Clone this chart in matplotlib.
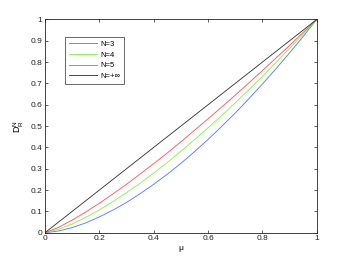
import matplotlib
matplotlib.use('Agg')
import matplotlib.pyplot as plt

# values
mu = [0, 0.05, 0.1, 0.15, 0.2, 0.25, 0.3, 0.35, 0.4, 0.45, 0.5,
      0.55, 0.6, 0.65, 0.7, 0.75, 0.8, 0.85, 0.9, 0.95, 1]
d_n3 = [0, 0.008, 0.024, 0.046, 0.074, 0.106, 0.142, 0.183, 0.227, 0.274, 0.325,
        0.380, 0.437, 0.498, 0.561, 0.628, 0.697, 0.769, 0.843, 0.920, 1]
d_n4 = [0, 0.016, 0.041, 0.072, 0.107, 0.146, 0.188, 0.232, 0.280, 0.329, 0.382,
        0.436, 0.492, 0.549, 0.609, 0.670, 0.733, 0.798, 0.864, 0.931, 1]
d_n5 = [0, 0.025, 0.059, 0.097, 0.138, 0.182, 0.227, 0.275, 0.324, 0.374, 0.426,
        0.480, 0.534, 0.589, 0.645, 0.702, 0.760, 0.819, 0.878, 0.939, 1]
d_inf = [0, 0.05, 0.1, 0.15, 0.2, 0.25, 0.3, 0.35, 0.4, 0.45, 0.5,
         0.55, 0.6, 0.65, 0.7, 0.75, 0.8, 0.85, 0.9, 0.95, 1]

labels = ['N=3', 'N=4', 'N=5', 'N=+\u221e']
colors = ['#5a7cff', '#8cf050', '#ff5a5a', '#3a3a3a']
xticks = [0, 0.2, 0.4, 0.6, 0.8, 1]
xticklabels = ['0', '0.2', '0.4', '0.6', '0.8', '1']
yticks = [0, 0.1, 0.2, 0.3, 0.4, 0.5, 0.6, 0.7, 0.8, 0.9, 1]
yticklabels = ['0', '0.1', '0.2', '0.3', '0.4', '0.5', '0.6', '0.7', '0.8', '0.9', '1']

plt.rcParams['font.family'] = ['Liberation Sans', 'DejaVu Sans']
plt.rcParams['mathtext.fontset'] = 'custom'
plt.rcParams['mathtext.rm'] = 'Liberation Sans'

fig = plt.figure(figsize=(3.49, 2.62), dpi=100)
ax = fig.add_axes([45 / 349, 1 - 232.7 / 262, 271.7 / 349, 213.2 / 262])

for y, c, l in zip([d_n3, d_n4, d_n5, d_inf], colors, labels):
    ax.plot(mu, y, color=c, linewidth=0.65, label=l)

ax.set_xlim(0, 1)
ax.set_ylim(0, 1)
ax.set_xticks(xticks)
ax.set_xticklabels(xticklabels)
ax.set_yticks(yticks)
ax.set_yticklabels(yticklabels)
ax.tick_params(direction='in', length=2.5, width=0.5, labelsize=6, pad=2,
               top=True, right=True, colors='#222222')
for s in ax.spines.values():
    s.set_linewidth(0.6)
    s.set_color('#222222')

ax.set_xlabel('\u03bc', fontsize=6, labelpad=2)
ax.set_ylabel(r'$\mathrm{D}_\mathrm{R}^\mathrm{N}$', fontsize=6.5, labelpad=3)

leg = ax.legend(loc='upper left', bbox_to_anchor=(0.075, 0.92), fontsize=5.5,
                frameon=True, fancybox=False, edgecolor='#222222',
                handlelength=3.6, handletextpad=0.5, labelspacing=0.45,
                borderpad=0.5, borderaxespad=0)
leg.get_frame().set_linewidth(0.6)

fig.savefig('out.png', dpi=100)
